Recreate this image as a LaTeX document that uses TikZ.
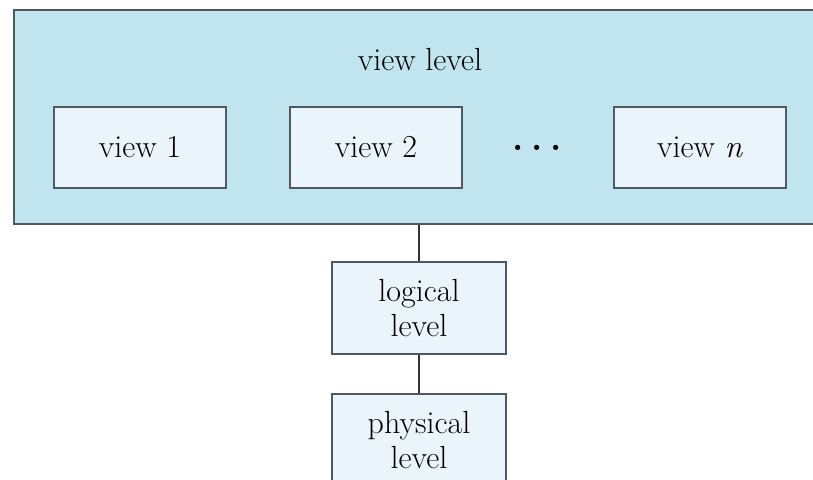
\documentclass[tikz,border=0pt]{standalone}
\usepackage{tikz}
\usetikzlibrary{positioning,calc}
\definecolor{levelblue}{RGB}{192,229,239}
\definecolor{boxblue}{RGB}{233,245,250}
\definecolor{edgegray}{RGB}{80,88,96}
\tikzset{
  levelspic/.style={
    x=0.5pt,y=-0.5pt
    ,font=\fontsize{16}{17.5}\selectfont
  }
  ,bounder/.style={rectangle,draw=edgegray,line width=1pt,inner sep=0pt}
  ,viewlevel/.style={bounder,fill=levelblue
    ,minimum width=408pt,minimum height=107pt}
  ,viewbox/.style={bounder,fill=boxblue
    ,minimum width=86pt,minimum height=40.5pt}
  ,levelbox/.style={bounder,fill=boxblue,align=center
    ,minimum width=87pt,minimum height=46pt}
  ,link/.style={draw=black!80,line width=0.6pt}
}
\begin{document}
\begin{tikzpicture}[levelspic]
    \clip (0,0) rectangle (813,479);
    % view level
    \node[viewlevel] (viewlvl) at (422,117) {};
    \node (viewname) at (420,60) {view level};
    \node[viewbox] (view1) at (140,147.5) {view 1};
    \node[viewbox] (view2) at (376,147.5) {view 2};
    \node[font=\fontsize{18}{18}\bfseries] (viewdots) at (537,148) {.\hspace{4pt}.\hspace{4pt}.};
    \node[viewbox] (viewn) at (700,147.5) {view \textit{n}};
    % logical and physical level
    \node[levelbox] (logical) at (419,308) {logical\\level};
    \node[levelbox,below=19pt of logical] (physical) {physical\\level};
    \draw[link] (logical.north |- viewlvl.south) -- (logical.north);
    \draw[link] (logical) -- (physical);
\end{tikzpicture}
\end{document}
